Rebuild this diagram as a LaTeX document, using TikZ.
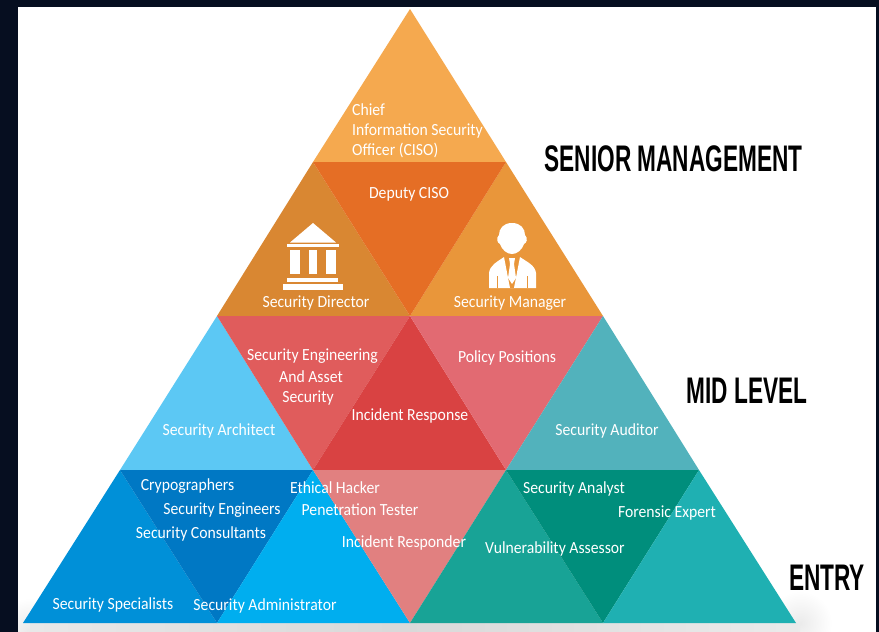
\documentclass[tikz,border=0pt]{standalone}
\usepackage{fontspec}
\setmainfont[FakeStretch=0.925]{Carlito}
\newfontfamily\headfont[FakeStretch=0.612]{Liberation Sans Bold}
\usetikzlibrary{calc}
\definecolor{bgdark}{HTML}{060E20}
\definecolor{mgrorange}{RGB}{233,150,58}
\tikzset{
  lab/.style={text=white,font=\fontsize{17}{18}\selectfont,inner sep=0pt,anchor=center},
  head/.style={text=black,font=\headfont\fontsize{37}{40}\selectfont,inner sep=0pt,anchor=center},
  ico/.style={fill=white,draw=none},
}
\begin{document}
\begin{tikzpicture}[x=1pt,y=-1pt]
\useasboundingbox (0,0) rectangle (879,632);
\fill[bgdark] (0,0) rectangle (879,632);
\fill[white] (18,7) rectangle (876,632);
% ground shadow
\begin{scope}
\clip (18,7) rectangle (876,632);
\shade[inner color=black!8,outer color=white] (800,623) circle (32);
\shade[inner color=black!9,outer color=white] (30,632) circle (34);
\shade[left color=black!9,right color=black!15] (30,623) rectangle (400,632);
\shade[left color=black!15,right color=black!8] (400,623) rectangle (800,632);
\end{scope}
% coordinates of the lattice
\coordinate (A) at (410,9);
\coordinate (B1) at (313,162); \coordinate (B2) at (506,162);
\coordinate (C1) at (217,316); \coordinate (C2) at (410,316); \coordinate (C3) at (603,316);
\coordinate (D1) at (120,470); \coordinate (D2) at (313,470); \coordinate (D3) at (506,470); \coordinate (D4) at (699,470);
\coordinate (E1) at (23,623); \coordinate (E2) at (217,623); \coordinate (E3) at (410,623); \coordinate (E4) at (603,623); \coordinate (E5) at (796,623);
% senior
\fill[fill={rgb,255:red,245;green,169;blue,79}] (A)--(B1)--(B2)--cycle;
\fill[fill={rgb,255:red,217;green,135;blue,50}] (B1)--(C1)--(C2)--cycle;
\fill[fill=mgrorange] (B2)--(C2)--(C3)--cycle;
\fill[fill={rgb,255:red,229;green,110;blue,37}] (B1)--(B2)--(C2)--cycle;
% mid
\fill[fill={rgb,255:red,92;green,200;blue,244}] (C1)--(D1)--(D2)--cycle;
\fill[fill={rgb,255:red,224;green,92;blue,92}] (C1)--(C2)--(D2)--cycle;
\fill[fill={rgb,255:red,217;green,66;blue,66}] (C2)--(D2)--(D3)--cycle;
\fill[fill={rgb,255:red,226;green,106;blue,114}] (C2)--(C3)--(D3)--cycle;
\fill[fill={rgb,255:red,82;green,178;blue,188}] (C3)--(D3)--(D4)--cycle;
% entry
\fill[fill={rgb,255:red,0;green,144;blue,216}] (D1)--(E1)--(E2)--cycle;
\fill[fill={rgb,255:red,0;green,120;blue,196}] (D1)--(D2)--(E2)--cycle;
\fill[fill={rgb,255:red,0;green,174;blue,239}] (D2)--(E2)--(E3)--cycle;
\fill[fill={rgb,255:red,225;green,128;blue,128}] (D2)--(D3)--(E3)--cycle;
\fill[fill={rgb,255:red,24;green,163;blue,150}] (D3)--(E3)--(E4)--cycle;
\fill[fill={rgb,255:red,0;green,142;blue,124}] (D3)--(D4)--(E4)--cycle;
\fill[fill={rgb,255:red,31;green,176;blue,178}] (D4)--(E4)--(E5)--cycle;
% building icon
\fill[ico] (313,223)--(290,242.5)--(336,242.5)--cycle;
\fill[ico] (287,244) rectangle (339,247);
\fill[ico] (290,250) rectangle (300,274);
\fill[ico] (309,250) rectangle (317,274);
\fill[ico] (326,250) rectangle (336,274);
\fill[ico] (287,277.5) rectangle (338,282);
\fill[ico] (283,284) rectangle (343,290);
% person icon
\fill[ico] (512,223) .. controls (503,223) and (499,229) .. (499,235) .. controls (496,238) and (497,243) .. (500,244) .. controls (502,250) and (507,254) .. (512,254) .. controls (517,254) and (522,250) .. (524,244) .. controls (527,243) and (528,238) .. (525,235) .. controls (525,229) and (521,223) .. (512,223) -- cycle;
\fill[ico] (489,288) -- (489,273) .. controls (490,265) and (497,262) .. (504,257) -- (510,288) -- (514,288) -- (520,257) .. controls (527,262) and (535,265) .. (536,273) -- (536,288) -- cycle;
\fill[ico] (509,258) -- (515,258) -- (514,264) -- (516,278) -- (512,284) -- (508,278) -- (510,264) -- cycle;
\draw[mgrorange,line width=0.8pt] (497,276) -- (497,288) (527,276) -- (527,288);
% labels
\node[lab,anchor=west] (chief) at (352,109.5) {Chief};
\node[lab,anchor=west] (info) at (352,130.5) {Information Security};
\node[lab,anchor=west] (officer) at (352,150.5) {Officer (CISO)};
\node[lab] (deputy) at (409,194.5) {Deputy CISO};
\node[lab] (director) at (316,303) {Security Director};
\node[lab] (manager) at (510,303) {Security Manager};
\node[lab] (eng) at (312.5,356) {Security Engineering};
\node[lab] (asset) at (311,377) {And Asset};
\node[lab] (secu) at (308,398) {Security};
\node[lab] (policy) at (507,358) {Policy Positions};
\node[lab] (response) at (410,415.5) {Incident Response};
\node[lab] (arch) at (219,430.5) {Security Architect};
\node[lab] (audit) at (607,430.5) {Security Auditor};
\node[lab] (cryp) at (187.5,486.5) {Crypographers};
\node[lab] (engs) at (222,510) {Security Engineers};
\node[lab] (cons) at (201,534) {Security Consultants};
\node[lab] (hack) at (335,488) {Ethical Hacker};
\node[lab] (pen) at (360,509.5) {Penetration Tester};
\node[lab] (resp) at (404,542.5) {Incident Responder};
\node[lab] (spec) at (113,604.5) {Security Specialists};
\node[lab] (admin) at (265,605.5) {Security Administrator};
\node[lab] (analyst) at (574,488.5) {Security Analyst};
\node[lab] (forensic) at (667,513) {Forensic Expert};
\node[lab] (vuln) at (555,549) {Vulnerability Assessor};
\node[head] (senior) at (673.5,158.5) {SENIOR MANAGEMENT};
\node[head] (midl) at (747,390.5) {MID LEVEL};
\node[head] (entry) at (827,577.5) {ENTRY};
\end{tikzpicture}
\end{document}
